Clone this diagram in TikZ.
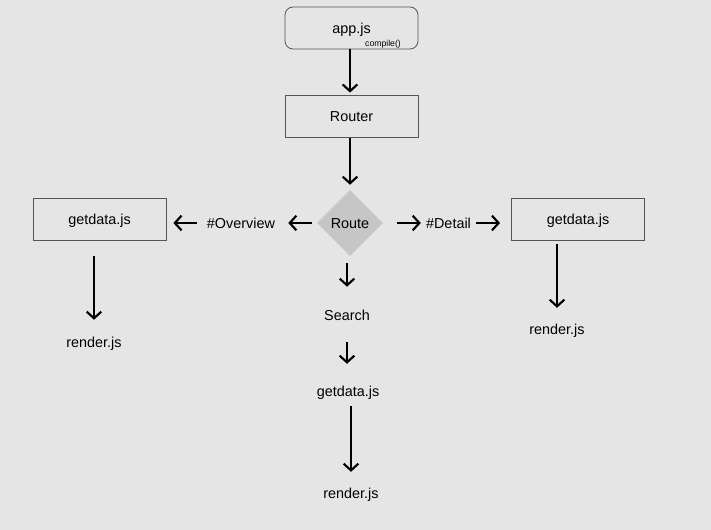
\documentclass[tikz,border=0pt]{standalone}
\usepackage{fontspec}
\setmainfont{Liberation Sans}
\usepackage{tikz}
\usetikzlibrary{arrows.meta,positioning,shapes.geometric}
\definecolor{bgcol}{HTML}{E5E5E5}
\definecolor{diacol}{HTML}{C6C6C6}
\definecolor{edgecol}{HTML}{555555}

\begin{document}
\begin{tikzpicture}[x=0.75pt, y=-0.75pt,
  box/.style={draw=edgecol, line width=0.6pt, fill=bgcol, minimum width=99.75pt, minimum height=31.5pt, inner sep=0pt, text height=9.5pt, text depth=0.5pt, font=\fontsize{10.8}{13}\selectfont},
  lbl/.style={inner sep=0pt, text height=9.5pt, text depth=0.5pt, font=\fontsize{10.8}{13}\selectfont},
  arr/.style={-{Straight Barb[length=5pt, width=11pt]}, line width=1.6pt}]
  % canvas in pixels of the 711 x 530 sketch
  \fill[bgcol] (0,0) rectangle (711,530);
  \useasboundingbox (0,0) rectangle (711,530);
  \node[box, rounded corners=6pt] (app)    at (351.5,28)  {app.js};
  \node[inner sep=0pt, font=\fontsize{6.5}{8}\selectfont] (compile) at (383,44) {compile()};
  \node[box]                      (router) at (351.5,116) {Router};
  \node[diamond, fill=diacol, inner sep=0pt, minimum width=49.5pt, minimum height=49.5pt, text height=9.5pt, text depth=0.5pt, font=\fontsize{10.8}{13}\selectfont] (route) at (350,223) {Route};
  \node[lbl]                      (overview) at (241,223) {\#Overview};
  \node[lbl]                      (detail)   at (448.5,223) {\#Detail};
  \node[box]                      (leftget)  at (99.5,219) {getdata.js};
  \node[box]                      (rightget) at (578,219)  {getdata.js};
  \node[lbl]                      (leftrender)  at (94,342)  {render.js};
  \node[lbl]                      (rightrender) at (557,329) {render.js};
  \node[lbl]                      (search)   at (347,315) {Search};
  \node[lbl]                      (midget)   at (348,391) {getdata.js};
  \node[lbl]                      (midrender) at (351,493) {render.js};
  \draw[arr, shorten >=1.5pt] (app.south -| route) -- (router.north -| route);
  \draw[arr, shorten <=0.75pt, shorten >=3.75pt] (router.south -| route) -- (route.north);
  \draw[arr, shorten <=3.75pt, shorten >=9.75pt] (route.west) -- (overview.east);
  \draw[arr, shorten <=7.5pt, shorten >=5.25pt] (overview.west) -- (leftget.east |- overview);
  \draw[arr, shorten <=10.5pt, shorten >=3.75pt] (route.east) -- (detail.west);
  \draw[arr, shorten <=3.75pt, shorten >=8.25pt] (detail.east) -- (rightget.west |- detail);
  \draw[arr, shorten <=12pt, shorten >=11.5pt] (leftget.south -| leftrender) -- (leftrender.north);
  \draw[arr, shorten <=3pt, shorten >=10.7pt] (rightget.south -| rightrender) -- (rightrender.north);
  \draw[arr, shorten <=5.25pt, shorten >=16pt] (route.south -| search) -- (search.north);
  \draw[arr, shorten <=15.2pt, shorten >=15.2pt] (search.south) -- (midget.north -| search);
  \draw[arr, shorten <=6.2pt, shorten >=10.7pt] (midget.south -| midrender) -- (midrender.north);
\end{tikzpicture}
\end{document}
